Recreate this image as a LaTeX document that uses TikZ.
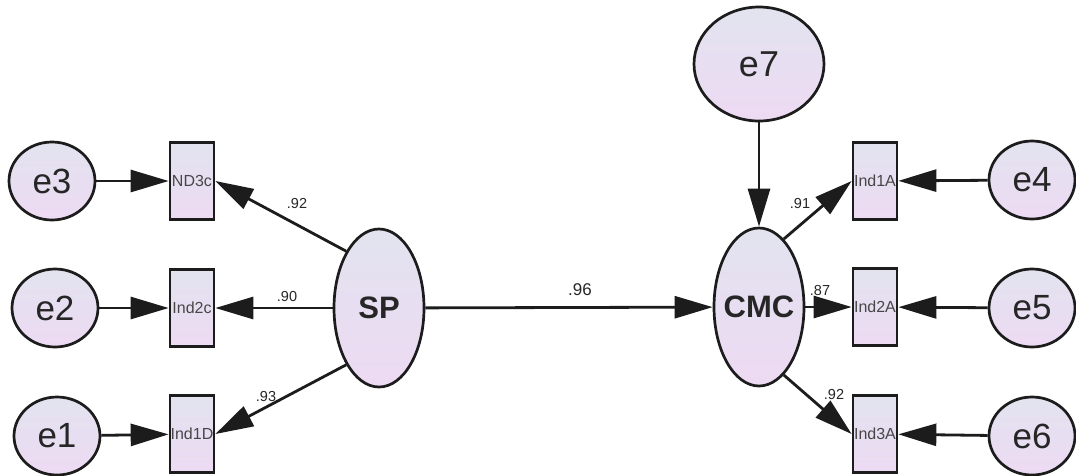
\documentclass[tikz,border=0pt]{standalone}
\usepackage{fontspec}
\setmainfont{Liberation Sans}
\usetikzlibrary{shapes.geometric,arrows.meta}
\definecolor{fillTop}{HTML}{E2E3EF}
\definecolor{fillBot}{HTML}{EDDAF3}
\definecolor{ink}{HTML}{1C1C1C}
\definecolor{txt}{HTML}{262626}
\tikzset{
  shadefill/.style={top color=fillTop, bottom color=fillBot, draw=ink, line width=2.7pt},
  errvar/.style={shadefill, ellipse, inner sep=0pt, minimum width=86pt, minimum height=78pt,
    font=\fontsize{35}{35}\selectfont, text=txt},
  bigerr/.style={shadefill, ellipse, inner sep=0pt, minimum width=130pt, minimum height=114pt,
    font=\fontsize{36}{36}\selectfont, text=txt},
  latent/.style={shadefill, ellipse, inner sep=0pt, minimum width=90pt, minimum height=158pt},
  latentlbl/.style={font=\fontsize{31}{31}\selectfont\bfseries, text=txt},
  indicator/.style={shadefill, rectangle, inner sep=0pt, minimum width=44pt, minimum height=77pt},
  indlbl/.style={font=\fontsize{16}{16}\selectfont, text=txt!85!white},
  coef/.style={font=\fontsize{14.5}{14.5}\selectfont, text=txt, inner sep=0pt},
  path/.style={draw=ink, line width=2.8pt, -{Triangle[length=38pt,width=22pt]}},
}
\begin{document}
\begin{tikzpicture}[x=1pt,y=-1pt]
\useasboundingbox[fill=white] (0,0) rectangle (1076,475);

% latent variables
\node[latent, label={[latentlbl]center:SP}]  (SP)  at (379,308) {};
\node[latent, label={[latentlbl]center:CMC}] (CMC) at (759,307) {};

% left indicators
\node[indicator, label={[indlbl]center:ND3c}]  (ND3c) at (192,181) {};
\node[indicator, label={[indlbl]center:Ind2c}] (Ind2c) at (192,308) {};
\node[indicator, label={[indlbl]center:Ind1D}] (Ind1D) at (192,434) {};

% right indicators
\node[indicator, label={[indlbl]center:Ind1A}] (Ind1A) at (875,181) {};
\node[indicator, label={[indlbl]center:Ind2A}] (Ind2A) at (875,307) {};
\node[indicator, label={[indlbl]center:Ind3A}] (Ind3A) at (875,434) {};

% error terms
\node[errvar] (e3) at (52,181) {e3};
\node[errvar] (e2) at (55,308) {e2};
\node[errvar] (e1) at (57,436) {e1};
\node[errvar] (e4) at (1032,180) {e4};
\node[errvar] (e5) at (1032,308) {e5};
\node[errvar] (e6) at (1032,436) {e6};
\node[bigerr] (e7) at (759,64) {e7};

% error paths
\draw[path] (e3) -- (ND3c);
\draw[path] (e2) -- (Ind2c);
\draw[path] (e1) -- (Ind1D);
\draw[path] (e4) -- (Ind1A);
\draw[path] (e5) -- (Ind2A);
\draw[path] (e6) -- (Ind3A);
\draw[path] (e7) -- (CMC);

% loadings
\draw[path] (SP.120) -- (ND3c.east);
\draw[path] (SP) -- (Ind2c);
\draw[path] (SP.240) -- (Ind1D.east);
\draw[path] (CMC.70) -- (Ind1A.west);
\draw[path] (CMC) -- (Ind2A);
\draw[path] (CMC.-70) -- (Ind3A.west);

% structural path
\draw[path] (SP) -- (CMC);

% coefficients
\node[coef] (c1) at (297,204) {.92};
\node[coef] (c2) at (287,296) {.90};
\node[coef] (c3) at (266,396) {.93};
\node[coef, font=\fontsize{17}{17}\selectfont] (c4) at (580,290) {.96};
\node[coef] (c5) at (800,204) {.91};
\node[coef] (c6) at (820,291) {.87};
\node[coef] (c7) at (834,394) {.92};
\end{tikzpicture}
\end{document}
